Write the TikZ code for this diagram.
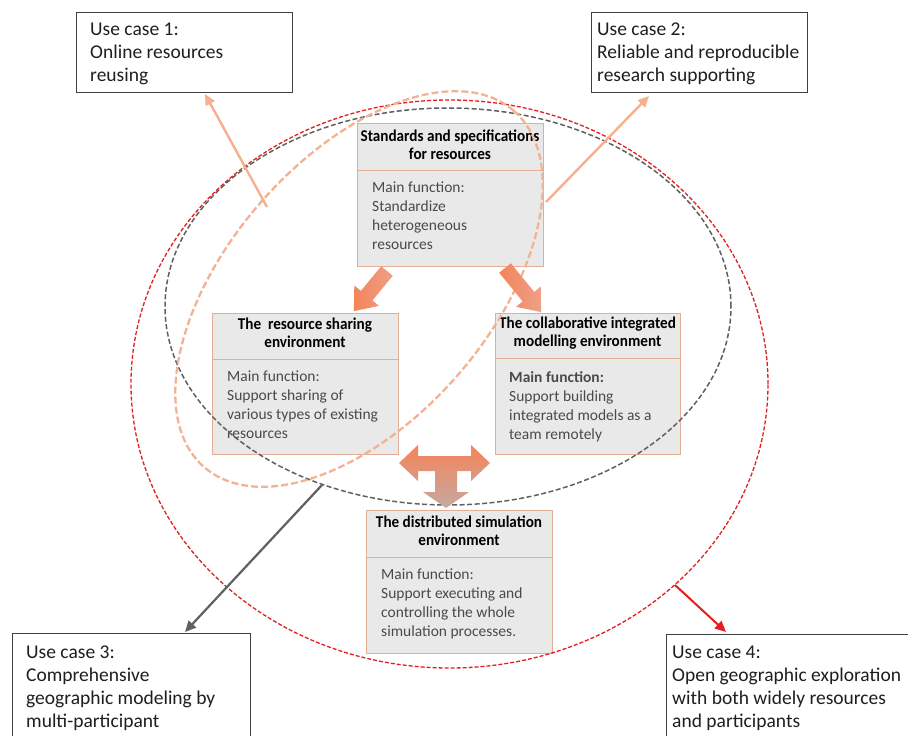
\documentclass[tikz,border=0pt]{standalone}
\usepackage{fontspec}
\setmainfont{Carlito}
\newfontfamily\hdfont{Carlito}[FakeStretch=0.92]
\usetikzlibrary{arrows.meta,calc}
\definecolor{boxfill}{HTML}{E9E9E9}
\definecolor{boxline}{HTML}{E2AE96}
\definecolor{ucline}{HTML}{404040}
\definecolor{bodygray}{HTML}{4A4A4A}
\definecolor{redd}{HTML}{E01F1E}
\definecolor{grayd}{HTML}{606060}
\definecolor{salm}{HTML}{F2B394}
\definecolor{salar}{HTML}{F6B08D}
\definecolor{arrA}{HTML}{F5845A}
\definecolor{arrB}{HTML}{EDA088}
\definecolor{tgray}{HTML}{C6A8A0}
\newcommand\bigarr[4]{%
  \begin{scope}[shift={(#1,#2)},rotate=#3]
    \shade[left color=arrA, right color=arrB]
      (0,-7.5) -- (#4-20,-7.5) -- (#4-20,-16) -- (#4,0) -- (#4-20,16) -- (#4-20,7.5) -- (0,7.5) -- cycle;
  \end{scope}}
\begin{document}
\begin{tikzpicture}[x=1pt,y=-1pt,
  envbox/.style={draw=boxline, fill=boxfill, line width=0.8pt, inner sep=0pt, anchor=north west},
  divline/.style={draw=boxline, line width=0.8pt},
  ucbox/.style={draw=ucline, fill=white, line width=1pt, inner sep=0pt, anchor=north west},
  hdtext/.style={font=\hdfont\bfseries\fontsize{16.5}{18}\selectfont, align=center, inner sep=0pt, text=black},
  bodytext/.style={font=\fontsize{15.5}{19}\selectfont, align=left, inner sep=0pt, anchor=north west, text=bodygray},
  uctext/.style={font=\fontsize{19.5}{23}\selectfont, align=left, inner sep=0pt, anchor=north west, text=black!88},
  reddash/.style={draw=redd, line width=1.3pt, dash pattern=on 4pt off 2pt},
  graydash/.style={draw=grayd, line width=1.5pt, dash pattern=on 5pt off 2.5pt},
  salmdash/.style={draw=salm, line width=2.3pt, dash pattern=on 7pt off 3pt},
  salarrow/.style={draw=salar, line width=2.4pt, -{Triangle[length=11pt,width=10pt]}},
  grayarrow/.style={draw=grayd, line width=2.2pt, -{Triangle[length=11pt,width=10pt]}},
  redarrow/.style={draw=redd, line width=2pt, -{Triangle[length=11pt,width=10pt]}}
]
\useasboundingbox (0,0) rectangle (908,736);
\clip (0,0) rectangle (908,736);

% use case boxes
\node[ucbox, minimum width=216pt, minimum height=80pt] (uc1) at (76,11.7) {};
\node[uctext] (uc1t) at (90,19) {\strut Use case 1:\\Online resources\\reusing};
\node[ucbox, minimum width=216pt, minimum height=80pt] (uc2) at (590.7,11.7) {};
\node[uctext] (uc2t) at (597,19) {\strut Use case 2:\\Reliable and reproducible\\research supporting};
\node[ucbox, minimum width=238pt, minimum height=120pt] (uc3) at (11.7,633) {};
\node[uctext] (uc3t) at (26,642) {\strut Use case 3:\\Comprehensive\\geographic modeling by\\multi-participant};
\node[ucbox, minimum width=260pt, minimum height=120pt] (uc4) at (665.7,634) {};
\node[uctext] (uc4t) at (672,642) {\strut Use case 4:\\Open geographic exploration\\with both widely resources\\and participants};

% environment boxes
\node[envbox, minimum width=186pt, minimum height=143pt] (std) at (357,123) {};
\draw[divline] ($(std.north west)+(0,47)$) -- ($(std.north east)+(0,47)$);
\node[hdtext] (stdh) at (450,145) {Standards and specifications\\for resources};
\node[bodytext] (stdb) at (372,178.5) {\strut Main function:\\Standardize\\heterogeneous\\resources};

\node[envbox, minimum width=186pt, minimum height=141pt] (res) at (212,313) {};
\draw[divline] ($(res.north west)+(0,46)$) -- ($(res.north east)+(0,46)$);
\node[hdtext] (resh) at (305,333) {The\ \ resource sharing\\environment};
\node[bodytext] (resb) at (227,367.5) {\strut Main function:\\Support sharing of\\various types of existing\\resources};

\node[envbox, minimum width=185pt, minimum height=141pt] (col) at (495,313) {};
\draw[divline] ($(col.north west)+(0,45)$) -- ($(col.north east)+(0,45)$);
\node[hdtext] (colh) at (587.5,333) {The collaborative integrated\\modelling environment};
\node[bodytext] (colb) at (509,368.5) {\strut \textbf{Main function:}\\Support building\\integrated models as a\\team remotely};

\node[envbox, minimum width=186pt, minimum height=143pt] (dis) at (366,510) {};
\draw[divline] ($(dis.north west)+(0,47)$) -- ($(dis.north east)+(0,47)$);
\node[hdtext] (dish) at (459,531) {The distributed simulation\\environment};
\node[bodytext] (disb) at (381,565.5) {\strut Main function:\\Support executing and\\controlling the whole\\simulation processes.};

% ellipses
\draw[reddash] (449.5,384) ellipse [x radius=318.5pt, y radius=284pt];
\draw[graydash] (448,306.5) ellipse [x radius=283pt, y radius=198.5pt];
\draw[salmdash, rotate around={49:(359,289)}] (359,289) ellipse [x radius=236pt, y radius=131pt];

% block arrows
\bigarr{387}{271}{-129.5}{52}
\bigarr{505}{268}{-50.7}{57}
\shade[top color=arrA, middle color=arrA!92!tgray, bottom color=tgray]
  (399,463) -- (418,445) -- (418,456) -- (471,456) -- (471,445) -- (490,463)
  -- (471,481) -- (471,471) -- (457,471) -- (457,492) -- (469,492) -- (446,508)
  -- (423,492) -- (435,492) -- (435,471) -- (418,471) -- (418,481) -- cycle;

% use case arrows
\coordinate (a1s) at (267,207); \coordinate (a1e) at (205,94);
\coordinate (a2s) at (546,202); \coordinate (a2e) at (649,96);
\coordinate (a3s) at (322,485); \coordinate (a3e) at (185,632);
\coordinate (a4s) at (675,585); \coordinate (a4e) at (726,632);
\draw[salarrow] (a1s) -- (a1e);
\draw[salarrow] (a2s) -- (a2e);
\draw[grayarrow] (a3s) -- (a3e);
\draw[redarrow] (a4s) -- (a4e);
\end{tikzpicture}
\end{document}
